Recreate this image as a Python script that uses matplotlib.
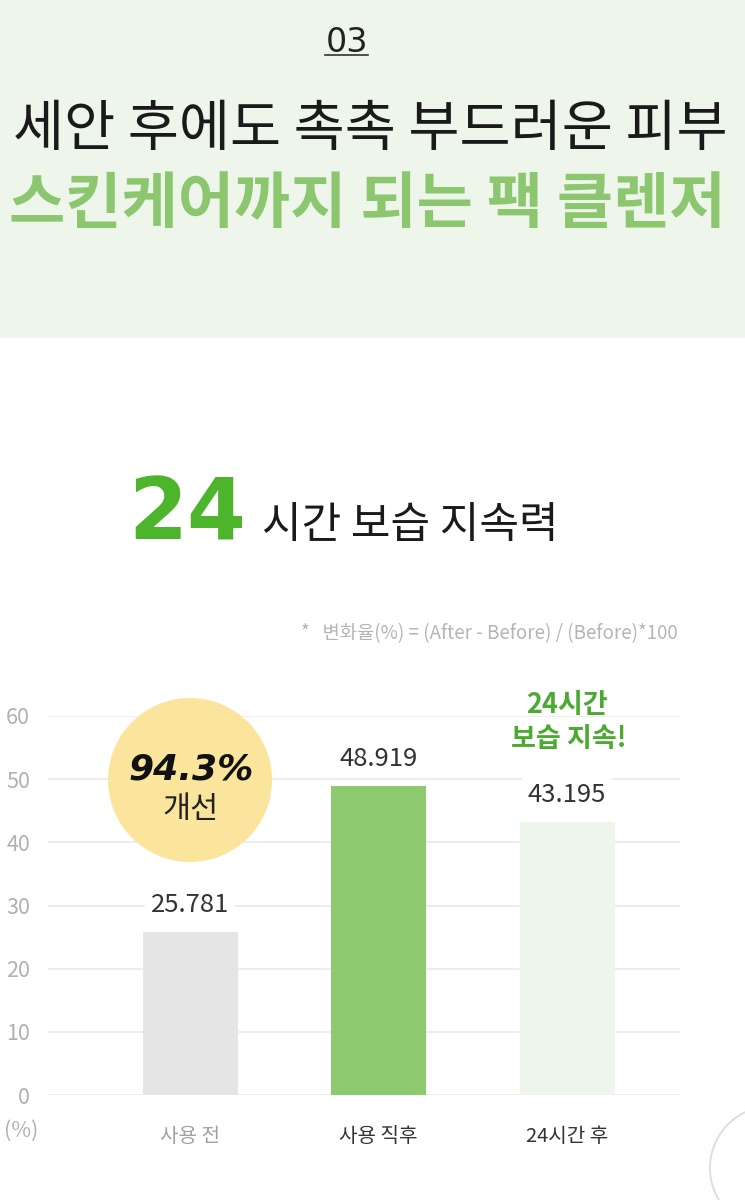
import matplotlib.pyplot as plt
from matplotlib.patches import Rectangle, Ellipse
from matplotlib.lines import Line2D

plt.rcParams['font.family'] = ['Noto Sans CJK KR', 'DejaVu Sans']

# data
categories = ['사용 전', '사용 직후', '24시간 후']
values = [25.781, 48.919, 43.195]
yticks = [0, 10, 20, 30, 40, 50, 60]
improvement = '94.3%'

W, H = 745, 1200
fig = plt.figure(figsize=(W / 100, H / 100), dpi=100)
fig.patch.set_facecolor('white')


def fx(px):
    return px / W


def fy(py):
    return 1 - py / H


# top band
fig.add_artist(Rectangle((0, fy(338)), 1, 338 / H, transform=fig.transFigure,
                         facecolor='#eef5ea', edgecolor='none', zorder=0))

fig.text(fx(347), fy(52), '03', ha='center', va='baseline', fontsize=24,
         color='#222222', family='DejaVu Sans')
fig.add_artist(Line2D([fx(325), fx(368)], [fy(55), fy(55)], transform=fig.transFigure,
                      color='#333333', lw=1.2))

fig.text(fx(728), fy(130), '세안 후에도 촉촉 부드러운 피부', ha='right', va='center',
         fontsize=40, color='#1a1a1a')
fig.text(fx(726), fy(205), '스킨케어까지 되는 팩 클렌저', ha='right', va='center',
         fontsize=44, fontweight='bold', color='#8cc66e')

# section title
fig.text(fx(128), fy(540), '24', ha='left', va='baseline', fontsize=61,
         fontweight='bold', color='#4cb52c', family='DejaVu Sans')
fig.text(fx(262), fy(538), '시간 보습 지속력', ha='left', va='baseline',
         fontsize=31, fontweight='medium', color='#1a1a1a')

fig.text(fx(678), fy(634), '*   변화율(%) = (After - Before) / (Before)*100', ha='right',
         va='center', fontsize=13.5, color='#b5b5b5')

# chart
left, right, y0, y60 = 48, 680, 1095, 716
ax = fig.add_axes([fx(left), fy(y0), (right - left) / W, (y0 - y60) / H])
ax.set_ylim(0, 60)
step = 188.5
x0 = 190
ax.set_xlim((left - x0) / step, (right - x0) / step)

xs = range(len(categories))
ax.bar(xs, values, width=95 / step, color=['#e5e5e5', '#8ec96f', '#eef6ec'], zorder=2)

ax.set_yticks(yticks)
ax.set_yticklabels([str(t) for t in yticks])
ax.yaxis.grid(True, color='#ececec', lw=1.3)
ax.set_axisbelow(True)
for s in ax.spines.values():
    s.set_visible(False)
ax.tick_params(axis='y', length=0, pad=13, labelsize=15.5, labelcolor='#b0b0b0')
ax.tick_params(axis='x', length=0, pad=22, labelsize=14.5)
ax.set_xticks(list(xs))
ax.set_xticklabels(categories)
for lab, c in zip(ax.get_xticklabels(), ['#a0a0a0', '#333333', '#333333']):
    lab.set_color(c)

for i, v in enumerate(values):
    ax.text(i, v + 4.3, f'{v:.3f}', ha='center', va='center', fontsize=18.5,
            color='#333333', zorder=3,
            bbox=dict(facecolor='white', edgecolor='none', pad=4))

fig.text(fx(21), fy(1131), '(%)', ha='center', va='center', fontsize=15.5, color='#b0b0b0')

# highlight badge
r = 82
fig.add_artist(Ellipse((fx(190), fy(780)), 2 * r / W, 2 * r / H, transform=fig.transFigure,
                       facecolor='#fbe59c', edgecolor='none', zorder=2))
fig.text(fx(191), fy(780), improvement, ha='center', va='baseline', fontsize=26,
         fontweight='bold', fontstyle='italic', color='#111111',
         family='DejaVu Sans', zorder=3)
fig.text(fx(191), fy(809), '개선', ha='center', va='center', fontsize=22,
         color='#222222', zorder=3)

fig.text(fx(567), fy(705), '24시간', ha='center', va='center', fontsize=19.5,
         fontweight='bold', color='#4aab30')
fig.text(fx(569), fy(739), '보습 지속!', ha='center', va='center', fontsize=19.5,
         fontweight='bold', color='#4aab30')

# partial button outline bottom right
fig.add_artist(Ellipse((fx(772), fy(1168)), 124 / W, 124 / H, transform=fig.transFigure,
                       facecolor='white', edgecolor='#dcdcdc', lw=1.3, zorder=2))

fig.savefig('out.png', dpi=100)
